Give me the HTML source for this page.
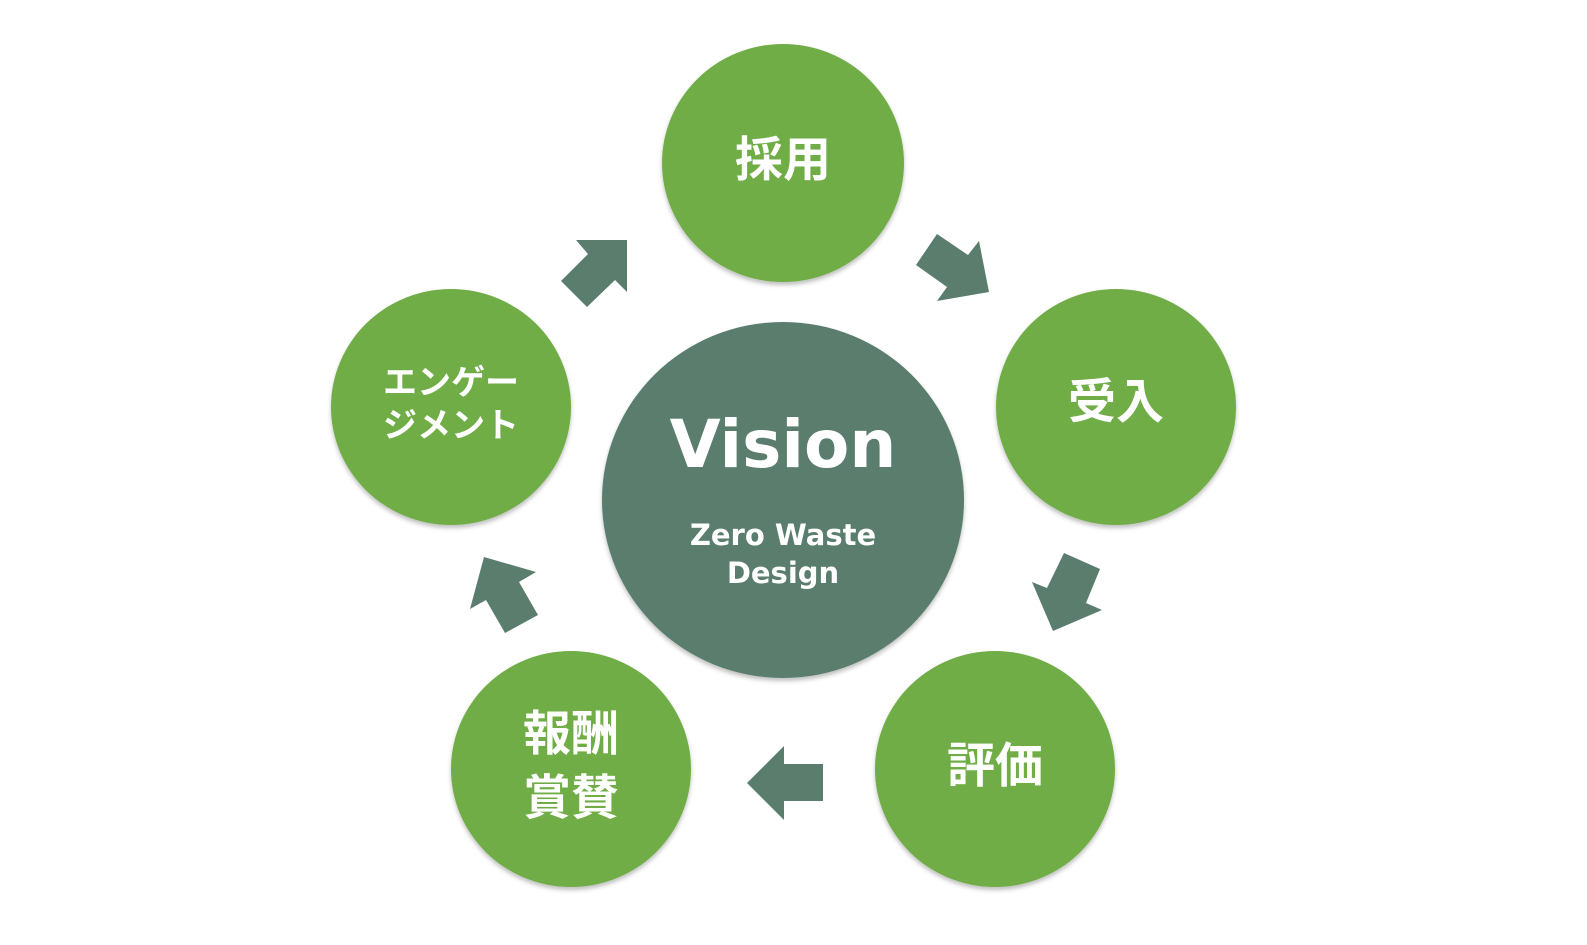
<!DOCTYPE html>
<html><head><meta charset="utf-8"><style>
html,body{margin:0;padding:0;background:#fff;}
svg{display:block;}
.jp{font-family:"Liberation Sans","Noto Sans CJK JP",sans-serif;font-weight:bold;fill:#fff;}
.en{font-family:"DejaVu Sans","Liberation Sans",sans-serif;font-weight:bold;fill:#fff;}
</style></head><body>
<svg width="1587" height="945" viewBox="0 0 1587 945" xmlns="http://www.w3.org/2000/svg">
<defs>
<filter id="sh" x="-10%" y="-10%" width="120%" height="125%">
<feDropShadow dx="0" dy="3" stdDeviation="2" flood-color="#000" flood-opacity="0.25"/>
</filter>
</defs>
<g fill="#70ad47" filter="url(#sh)">
<ellipse cx="783" cy="163" rx="121" ry="119"/>
<ellipse cx="1116" cy="407" rx="120" ry="118"/>
<ellipse cx="995" cy="769" rx="120" ry="118"/>
<ellipse cx="571" cy="769" rx="120" ry="118"/>
<ellipse cx="451" cy="407" rx="120" ry="118"/>
</g>
<ellipse cx="783" cy="500" rx="181" ry="178" fill="#5a7d6e" filter="url(#sh)"/>
<g fill="#5a7d6e">
<polygon points="576,240 627,240 627,292 615,280 587,307 561,281 588,254"/>
<polygon points="937,234 968,255 979,241 989,292 937,301 947,287 916,265"/>
<polygon points="1064,553 1100,569 1086,603 1102,610 1053,631 1032,582 1047,588"/>
<polygon points="823,764 823,801 784,801 784,820 747,783 784,746 784,764"/>
<polygon points="484,557 536,572 519,582 538,615 505,633 486,600 470,609"/>
</g>
<text class="en" x="783" y="467" font-size="66" text-anchor="middle">Vision</text>
<text class="en" x="783" y="545" font-size="29" text-anchor="middle">Zero Waste</text>
<text class="en" x="783" y="583" font-size="29" text-anchor="middle">Design</text>
<text class="jp" x="783" y="176" font-size="48" text-anchor="middle">採用</text>
<text class="jp" x="1116" y="418" font-size="48" text-anchor="middle">受入</text>
<text class="jp" x="995" y="782" font-size="48" text-anchor="middle">評価</text>
<text class="jp" x="571" y="750" font-size="48" text-anchor="middle">報酬</text>
<text class="jp" x="571" y="814" font-size="48" text-anchor="middle">賞賛</text>
<text class="jp" x="451" y="394" font-size="34" text-anchor="middle">エンゲー</text>
<text class="jp" x="451" y="437" font-size="34" text-anchor="middle">ジメント</text>
</svg>
</body></html>
